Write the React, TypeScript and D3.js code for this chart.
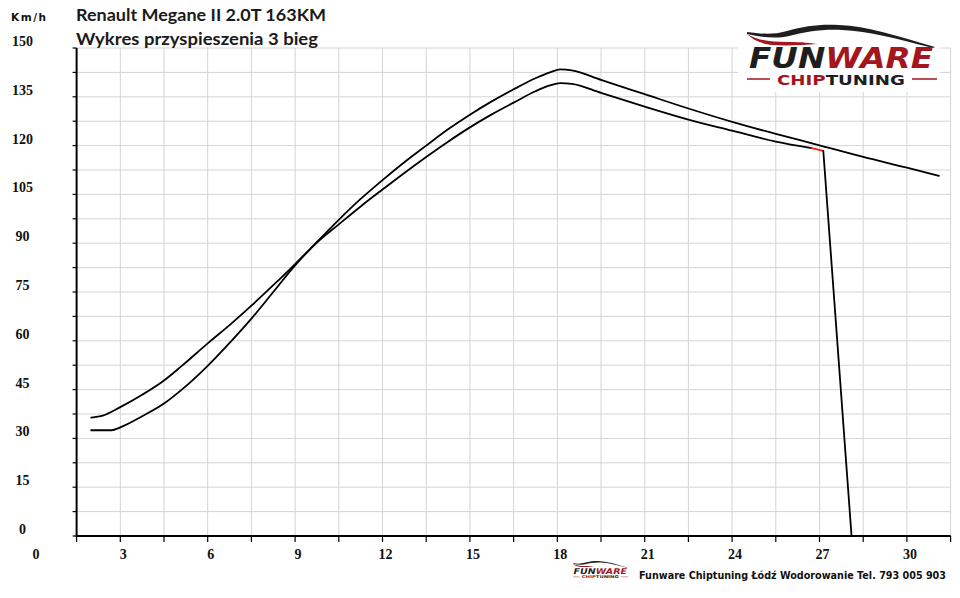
import * as d3 from 'd3'

// acceleration run, 3rd gear: time (s) vs speed (km/h)
const tunedTime = [2, 2.4, 3, 3.75, 4.5, 5.1, 6, 6.8, 7.5, 8.25, 9, 9.75, 10.5, 11.25, 12, 12.75, 13.5, 14.25, 15, 15.75, 16.5, 17.25, 17.75, 18.1, 18.5, 19.5, 21, 22.5, 24, 25.5, 27, 28.5, 30, 31.1]
const tunedSpeed = [36.4, 37.0, 39.6, 43.4, 47.8, 52.2, 59.2, 65.2, 70.8, 77.1, 83.6, 90.4, 97.2, 103.6, 109.4, 114.9, 120, 125, 129.5, 133.6, 137.3, 140.7, 142.5, 143.4, 143.1, 140.2, 135.8, 131.4, 127.3, 123.6, 120.1, 116.5, 113.2, 110.7]

const stockTime = [2, 2.7, 3, 3.75, 4.5, 5.1, 6, 6.8, 7.5, 8.25, 9, 9.75, 10.5, 11.25, 12, 12.75, 13.5, 14.25, 15, 15.75, 16.5, 17.25, 17.75, 18.1, 18.5, 19.5, 21, 22.5, 24, 25.5, 26.73]
const stockSpeed = [32.5, 32.5, 33.4, 36.8, 40.7, 44.9, 52.3, 59.8, 66.8, 75.0, 83.2, 90.2, 95.8, 101.3, 106.5, 111.6, 116.5, 121.2, 125.6, 129.6, 133.2, 136.7, 138.5, 139.2, 139, 136.2, 132, 128, 124.6, 121.2, 119.2]

// red end-of-run marker and the drop line after the stock run
const cutTime = [26.73, 27.13]
const cutSpeed = [119.2, 118.4]
const dropTime = [27.13, 28.1]
const dropSpeed = [118.4, 0]

const timeTicks = [0, 3, 6, 9, 12, 15, 18, 21, 24, 27, 30]
const speedTicks = [0, 15, 30, 45, 60, 75, 90, 105, 120, 135, 150]

const title = 'Renault Megane II 2.0T 163KM'
const subtitle = 'Wykres przyspieszenia 3 bieg'
const unitLabel = 'Km/h'
const footer = 'Funware Chiptuning Łódź Wodorowanie Tel. 793 005 903'

const W = 960
const H = 598

const x = d3.scaleLinear().domain([1.5, 31.5]).range([76.6, 950.6])
const y = d3.scaleLinear().domain([0, 150]).range([536, 48])

const zip = (xs: number[], ys: number[]) => xs.map((t, i) => [t, ys[i]] as [number, number])

const smooth = d3.line<[number, number]>()
  .x(d => x(d[0]))
  .y(d => y(d[1]))
  .curve(d3.curveMonotoneX)

const straight = d3.line<[number, number]>()
  .x(d => x(d[0]))
  .y(d => y(d[1]))

const RED = '#a3161d'
const DARK = '#1e1e1e'

const Logo = ({ tx, ty, s }: { tx: number; ty: number; s: number }) => (
  <g transform={`translate(${tx},${ty}) scale(${s})`}>
    {/* car silhouette */}
    <path d="M0,4 C14,6 26,7 40,3 C58,-2 72,-4 92,-3 C120,-2 150,8 188,19 L186,20 C150,11 122,3 95,2 C74,1 58,4 42,8 C28,11 14,9 0,6 Z" fill={DARK} />
    <path d="M0,6 C10,12 22,14 40,14 C56,14 64,15 70,16 C56,17 40,18 26,17 C14,16 6,12 0,6 Z" fill={RED} />
    <text x={2} y={40} fontFamily="'DejaVu Sans', sans-serif" fontWeight="bold" fontStyle="italic" fontSize={27.5} textLength={184} lengthAdjust="spacingAndGlyphs">
      <tspan fill={DARK}>FUN</tspan><tspan fill={RED}>WARE</tspan>
    </text>
    <line x1={0} x2={23} y1={51} y2={51} stroke={RED} strokeWidth={1.5} />
    <line x1={165} x2={190} y1={51} y2={51} stroke={RED} strokeWidth={1.5} />
    <text x={30} y={56.5} fontFamily="'DejaVu Sans', sans-serif" fontWeight="bold" fontSize={13.5} textLength={128} lengthAdjust="spacingAndGlyphs">
      <tspan fill={RED}>CHIP</tspan><tspan fill={DARK}>TUNING</tspan>
    </text>
  </g>
)

const App = () => {
  const gridX = d3.range(1.5, 31.51, 1.5)
  const gridY = d3.range(0, 150.01, 7.5)
  const [x0, x1] = x.range()
  const [y0, y1] = y.range()

  return (
    <div style={{ position: 'absolute', left: 0, top: 0 }}>
      <svg width={W} height={H} style={{ display: 'block', background: '#fff' }}>
        <rect width={W} height={H} fill="#fff" />

        {/* grid */}
        <g stroke="#d4d4d4" strokeWidth={1}>
          {gridX.map(v => (
            <line key={'gx' + v} x1={x(v)} x2={x(v)} y1={y1} y2={y0} />
          ))}
          {gridY.map(v => (
            <line key={'gy' + v} x1={x0} x2={x1} y1={y(v)} y2={y(v)} />
          ))}
        </g>

        {/* white box behind the logo */}
        <rect x={738} y={0} width={202} height={92} fill="#fff" />
        <Logo tx={747} ty={28} s={1} />

        {/* axis ticks */}
        <g stroke="#000" strokeWidth={1.2}>
          {gridX.map(v => (
            <line key={'tx' + v} x1={x(v)} x2={x(v)} y1={y0} y2={y0 + 6} />
          ))}
          {gridY.map(v => (
            <line key={'ty' + v} x1={x0 - 4} x2={x0} y1={y(v)} y2={y(v)} />
          ))}
        </g>

        {/* axis lines */}
        <line x1={x0} x2={x0} y1={y1} y2={y0 + 1} stroke="#000" strokeWidth={2} />
        <line x1={x0} x2={x1} y1={y0} y2={y0} stroke="#000" strokeWidth={2} />

        {/* tick labels */}
        <g fontFamily="'Liberation Serif', serif" fontWeight="bold" fontSize={14} fill="#111">
          {timeTicks.map(v => (
            <text key={'lx' + v} x={x(v) + 3} y={559} textAnchor="middle">{v}</text>
          ))}
          {speedTicks.map(v => (
            <text key={'ly' + v} x={22.5} y={y(v) - 2} textAnchor="middle">{v}</text>
          ))}
        </g>
        <text x={11} y={21} fontFamily="'DejaVu Sans', sans-serif" fontWeight="bold" fontSize={10.5} fill="#111" textLength={35} lengthAdjust="spacing">{unitLabel}</text>

        {/* titles */}
        <g fontFamily="Lato, 'Open Sans', sans-serif" fontWeight="bold" fontSize={17.5} fill="#1a1a1a">
          <text x={76} y={20.5} textLength={250} lengthAdjust="spacingAndGlyphs">{title}</text>
          <text x={76} y={45} textLength={242} lengthAdjust="spacingAndGlyphs">{subtitle}</text>
        </g>

        {/* curves */}
        <g fill="none" strokeLinejoin="round" strokeLinecap="round">
          <path d={smooth(zip(tunedTime, tunedSpeed)) ?? ''} stroke="#000" strokeWidth={1.8} />
          <path d={smooth(zip(stockTime, stockSpeed)) ?? ''} stroke="#000" strokeWidth={1.8} />
          <path d={straight(zip(cutTime, cutSpeed)) ?? ''} stroke="#ff1a1a" strokeWidth={1.8} />
          <path d={straight(zip(dropTime, dropSpeed)) ?? ''} stroke="#000" strokeWidth={1.8} />
        </g>

        {/* footer */}
        <Logo tx={573} ty={562} s={0.29} />
        <text x={639} y={579} fontFamily="'DejaVu Sans', sans-serif" fontWeight="bold" fontSize={11} fill="#111" textLength={307} lengthAdjust="spacingAndGlyphs">{footer}</text>
      </svg>
    </div>
  )
}

export default App
